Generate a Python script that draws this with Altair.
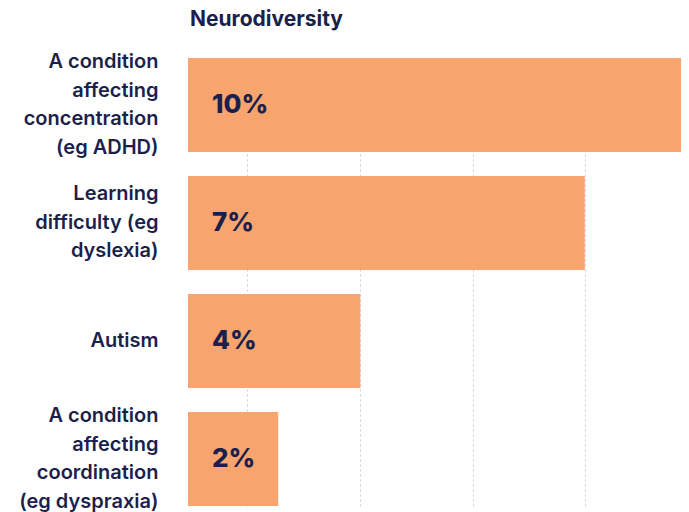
import altair as alt
import pandas as pd

categories = [
    "A condition|affecting|concentration|(eg ADHD)",
    "Learning|difficulty (eg|dyslexia)",
    "Autism",
    "A condition|affecting|coordination|(eg dyspraxia)",
]
value_labels = ["10%", "7%", "4%", "2%"]
# bar lengths as drawn in the picture (percent units)
bar_lengths = [10.0, 7.92, 3.44, 1.8]
grid_values = [1.18, 3.43, 5.68, 7.93]

df = pd.DataFrame({"cat": categories, "val": bar_lengths, "lab": value_labels})

NAVY = "#1b1f4b"
ORANGE = "#f8a46f"
FONT = "Inter"
LH = 28.5

y_enc = alt.Y(
    "cat:N",
    sort=categories,
    title=None,
    scale=alt.Scale(paddingInner=0.2034, paddingOuter=0),
    axis=alt.Axis(
        labelExpr="split(datum.label, '|')",
        labelFont=FONT,
        labelFontSize=20,
        labelFontWeight=600,
        labelColor=NAVY,
        labelLineHeight=LH,
        labelPadding=30,
        labelAlign="right",
        labelBaseline="middle",
        labelLimit=220,
        labelOffset={
            "condition": [
                {"test": "length(split(datum.value, '|')) == 4", "value": -1.5 * LH},
                {"test": "length(split(datum.value, '|')) == 3", "value": -1.0 * LH},
            ],
            "value": 0,
        },
        ticks=False,
        domain=False,
    ),
)

x_enc = alt.X(
    "val:Q",
    title=None,
    scale=alt.Scale(domain=[0, 9.84], nice=False, zero=True),
    axis=alt.Axis(
        values=grid_values,
        labels=False,
        ticks=False,
        domain=False,
        grid=True,
        gridDash=[2, 3],
        gridColor="#cccccc",
        gridWidth=1,
    ),
)

bars = alt.Chart(df).mark_bar(color=ORANGE).encode(x=x_enc, y=y_enc)

text = alt.Chart(df).mark_text(
    align="left",
    baseline="middle",
    dx=24,
    font=FONT,
    fontSize=26,
    fontWeight=800,
    color=NAVY,
).encode(x=alt.datum(0), y=alt.Y("cat:N", sort=categories), text="lab:N")

chart = (
    alt.layer(bars, text)
    .properties(
        width=493,
        height=448,
        title=alt.TitleParams(
            "Neurodiversity",
            anchor="start",
            frame="group",
            font=FONT,
            fontSize=21,
            fontWeight=700,
            color=NAVY,
            offset=22,
            dx=2,
        ),
        autosize=alt.AutoSizeParams(type="none"),
        padding={"left": 180, "top": 50, "right": 0, "bottom": 6},
        background="white",
    )
    .configure_view(stroke=None)
)

chart.save("out.html", embed_options={"renderer": "svg", "actions": False})
